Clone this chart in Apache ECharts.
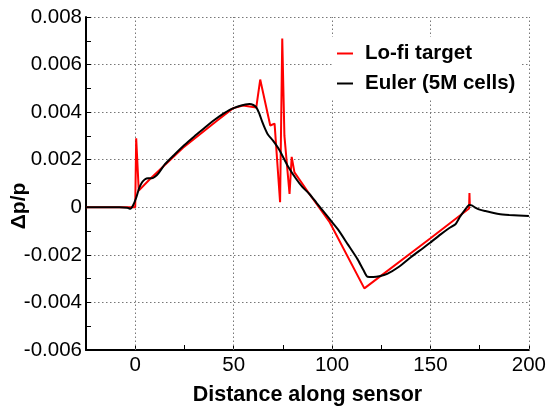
<!DOCTYPE html>
<html>
<head>
<meta charset="utf-8">
<script src="https://cdn.jsdelivr.net/npm/echarts@6/dist/echarts.min.js"></script>
<style>html,body{margin:0;padding:0;background:#fff}#c{width:549px;height:411px}</style>
</head>
<body>
<div id="c"></div>
<script>
const xTicks = [-25, 0, 25, 50, 75, 100, 125, 150, 175, 200];
const xGridLines = [0, 50, 100, 150, 200];
const seriesNames = ['Lo-fi target', 'Euler (5M cells)'];

const lofiX = [-25, 0, 0.5, 1.2, 1.8, 7.4, 24.3, 41.2, 49.6, 54.7, 61.5, 63.5, 68.6, 70.8, 73.6, 74.7, 75.8, 78.4, 79.5, 80.9, 88.5, 98.6, 116.4, 150, 169.6, 169.8, 170];
const lofiY = [0, 0, 0.0029, 0.0029, 0.0007, 0.00118, 0.0025, 0.00362, 0.00416, 0.00428, 0.0042, 0.00537, 0.00344, 0.00352, 0.00021, 0.0071, 0.003, 0.00056, 0.00212, 0.00147, 0.00056, -0.0006, -0.00341, -0.0013, -0.00005, 0.0006, 0.00005];

const eulerX = [-25, -8, -4, -2.5, -1, 0.5, 2, 3.5, 5, 6.5, 8.5, 10, 12, 15, 20, 25, 30, 35, 40, 45, 48, 50, 53, 56, 58, 60, 61.5, 63, 64.5, 66, 67.5, 70, 73.3, 77.5, 81.8, 85, 88.5, 92, 98.6, 103, 108, 113, 116, 118, 121, 124, 128, 134, 140, 146, 150, 155, 159.4, 162.8, 165, 167.9, 169.6, 171, 172.5, 175, 178, 184.7, 190, 200];
const eulerY = [0, 0, -0.00002, -0.00006, 0.0001, 0.0004, 0.0008, 0.00105, 0.00118, 0.00122, 0.00122, 0.00128, 0.00145, 0.0018, 0.00222, 0.00262, 0.00298, 0.00332, 0.00366, 0.00395, 0.0041, 0.00417, 0.00426, 0.00432, 0.00434, 0.0043, 0.0042, 0.00395, 0.0036, 0.0033, 0.00305, 0.0028, 0.0024, 0.00174, 0.00119, 0.00085, 0.00056, 0.0002, -0.00048, -0.00093, -0.00156, -0.00219, -0.00265, -0.00292, -0.00293, -0.0029, -0.0028, -0.0025, -0.0021, -0.00173, -0.00148, -0.00115, -0.00088, -0.0007, -0.0004, -0.00007, 0.0001, 0.00008, 0, -0.0001, -0.00016, -0.00028, -0.00032, -0.00037];

const zip = (xs, ys) => xs.map((x, i) => [x, ys[i]]);
const chart = echarts.init(document.getElementById('c'));
const font = 'Liberation Sans, Arial, sans-serif';
const gridStyle = { color: '#777', width: 1, type: [1.5, 2.5] };

chart.setOption({
  animation: false,
  backgroundColor: '#fff',
  grid: { left: 86, right: 19, top: 17, bottom: 59, containLabel: false },
  legend: {
    orient: 'vertical', left: 332, top: 37,
    padding: [6, 6, 6, 5],
    backgroundColor: '#fff',
    itemWidth: 16, itemHeight: 2, itemGap: 9,
    icon: 'rect',
    textStyle: { fontFamily: font, fontSize: 20.5, fontWeight: 'bold', color: '#000', padding: [0, 0, 0, 7] },
    data: seriesNames
  },
  xAxis: {
    type: 'value', min: xTicks[0], max: xTicks[xTicks.length - 1], interval: 25,
    name: 'Distance along sensor', nameLocation: 'middle', nameGap: 34,
    nameTextStyle: { fontFamily: font, fontSize: 21.5, fontWeight: 'bold', color: '#000' },
    axisLine: { show: true, onZero: false, lineStyle: { color: '#000', width: 2 } },
    axisTick: { show: true, inside: true, length: 5, lineStyle: { color: '#000', width: 1 } },
    axisLabel: { fontFamily: font, fontSize: 20.5, color: '#000', margin: 5,
      formatter: v => (xGridLines.indexOf(v) >= 0 ? String(v) : '') },
    splitLine: { show: false }
  },
  yAxis: {
    type: 'value', min: -0.006, max: 0.008, interval: 0.002,
    axisLine: { show: true, onZero: false, lineStyle: { color: '#000', width: 2 } },
    axisTick: { show: true, inside: true, length: 5, lineStyle: { color: '#000', width: 1 } },
    minorTick: { show: true, splitNumber: 2, length: 5, lineStyle: { color: '#000', width: 1 } },
    axisLabel: { fontFamily: font, fontSize: 20.5, color: '#000', margin: 4,
      formatter: v => (Math.abs(v) < 1e-12 ? '0' : v.toFixed(3)) },
    splitLine: { show: true, lineStyle: gridStyle }
  },
  graphic: [{
    type: 'text', x: 19, y: 206, rotation: Math.PI / 2,
    style: { text: 'Δp/p', fontFamily: font, fontSize: 21, fontWeight: 'bold', fill: '#000', align: 'center', verticalAlign: 'middle' }
  }],
  series: [
    {
      name: seriesNames[0], type: 'line', data: zip(lofiX, lofiY), showSymbol: false, symbol: 'none',
      lineStyle: { color: '#ff0000', width: 2 }, itemStyle: { color: '#ff0000' }, z: 3,
      markLine: {
        silent: true, symbol: 'none', label: { show: false },
        lineStyle: gridStyle, z: 1,
        data: xGridLines.map(v => ({ xAxis: v }))
      }
    },
    {
      name: seriesNames[1], type: 'line', data: zip(eulerX, eulerY), showSymbol: false, symbol: 'none',
      smooth: 0.2,
      lineStyle: { color: '#000', width: 2 }, itemStyle: { color: '#000' }, z: 4
    }
  ]
});
</script>
</body>
</html>
